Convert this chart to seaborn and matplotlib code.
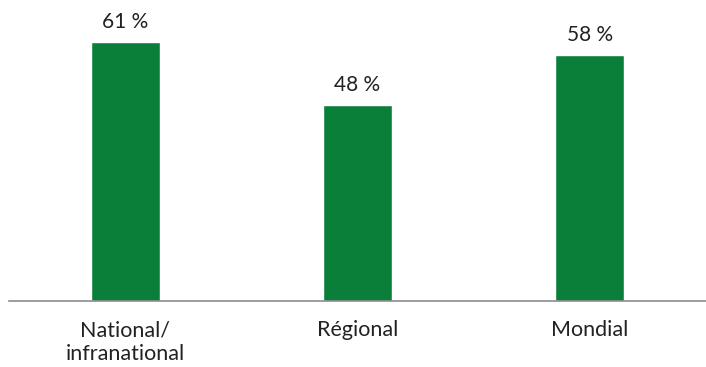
import matplotlib
matplotlib.use("Agg")
import matplotlib.pyplot as plt
import seaborn as sns
import pandas as pd

categories = ["National/\ninfranational", "Régional", "Mondial"]
values = [61, 46.2, 58]
labels = ["61 %", "48 %", "58 %"]

sns.set_theme(style="white")
plt.rcParams["font.family"] = ["Lato", "DejaVu Sans"]

df = pd.DataFrame({"cat": categories, "val": values})

fig = plt.figure(figsize=(7.06, 3.67), dpi=100)
ax = fig.add_axes([9/706, (367-301)/367, 697/706, 297/367])
sns.barplot(data=df, x="cat", y="val", color="#0A7F3A", saturation=1,
            width=0.297, ax=ax)
ax.set_ylim(0, 70)
ax.set_xlim(-0.5, 2.5)
for p, lab in zip(ax.patches, labels):
    ax.annotate(lab, (p.get_x() + p.get_width()/2, p.get_height()),
                xytext=(0, 7), textcoords="offset points",
                ha="center", va="bottom", fontsize=15, color="#222222")
for s in ["top", "right", "left"]:
    ax.spines[s].set_visible(False)
ax.spines["bottom"].set_color("#8c8c8c")
ax.spines["bottom"].set_linewidth(1.2)
ax.set_yticks([])
ax.set_xlabel("")
ax.set_ylabel("")
ax.tick_params(axis="x", length=0, pad=14, labelsize=15.5, labelcolor="#222222")
for t in ax.get_xticklabels():
    t.set_linespacing(1.25)
fig.savefig("out.png", dpi=100)
